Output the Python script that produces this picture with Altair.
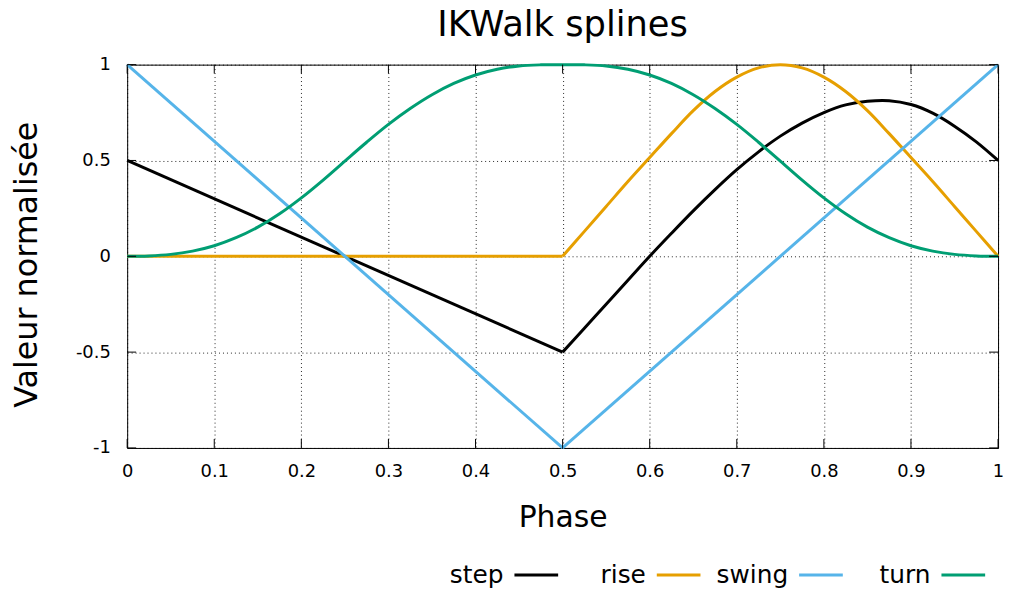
import altair as alt
import pandas as pd

# ---- data ----
series_names = ["step", "rise", "swing", "turn"]
series_colors = ["#000000", "#E69F00", "#56B4E9", "#009E73"]
title_text = "IKWalk splines"

step_phase = [0.0, 0.5, 0.525, 0.55, 0.575, 0.6, 0.625, 0.65, 0.675, 0.7, 0.725, 0.75,
              0.775, 0.8, 0.825, 0.85, 0.875, 0.9, 0.925, 0.95, 0.975, 1.0]
step_value = [0.5, -0.5, -0.375, -0.25, -0.125, 0.0, 0.12, 0.237, 0.348, 0.452, 0.545, 0.627,
              0.695, 0.75, 0.79, 0.809, 0.812, 0.792, 0.747, 0.679, 0.597, 0.5]

rise_phase = [0.0, 0.5, 0.525, 0.55, 0.575, 0.6, 0.625, 0.65, 0.675, 0.7, 0.725, 0.75,
              0.775, 0.8, 0.825, 0.85, 0.875, 0.9, 0.925, 0.95, 0.975, 1.0]
rise_value = [0.0, 0.0, 0.13, 0.26, 0.39, 0.515, 0.64, 0.76, 0.86, 0.935, 0.983, 1.0,
              0.983, 0.935, 0.86, 0.76, 0.64, 0.515, 0.39, 0.26, 0.13, 0.0]

swing_phase = [0.0, 0.5, 1.0]
swing_value = [1.0, -1.0, 1.0]

turn_phase = [0.0, 0.025, 0.05, 0.075, 0.1, 0.125, 0.15, 0.175, 0.2, 0.225, 0.25,
              0.275, 0.3, 0.325, 0.35, 0.375, 0.4, 0.425, 0.45, 0.475, 0.5,
              0.525, 0.55, 0.575, 0.6, 0.625, 0.65, 0.675, 0.7, 0.725, 0.75,
              0.775, 0.8, 0.825, 0.85, 0.875, 0.9, 0.925, 0.95, 0.975, 1.0]
turn_value = [0.0, 0.002, 0.010, 0.027, 0.055, 0.097, 0.152, 0.222, 0.305, 0.398, 0.497,
              0.595, 0.688, 0.771, 0.843, 0.902, 0.946, 0.976, 0.993, 0.999, 1.0,
              0.999, 0.993, 0.976, 0.946, 0.902, 0.843, 0.771, 0.688, 0.595, 0.497,
              0.398, 0.305, 0.222, 0.152, 0.097, 0.055, 0.027, 0.010, 0.002, 0.0]

# phase at which a series has a corner (drawn as separate smooth pieces)
kinks = {"step": 0.5, "rise": 0.5, "swing": 0.5}

x_ticks = [0, 0.1, 0.2, 0.3, 0.4, 0.5, 0.6, 0.7, 0.8, 0.9, 1]
y_ticks = [-1, -0.5, 0, 0.5, 1]

rows = []
for name, ph, va in [("step", step_phase, step_value), ("rise", rise_phase, rise_value),
                     ("swing", swing_phase, swing_value), ("turn", turn_phase, turn_value)]:
    k = kinks.get(name)
    for p, v in zip(ph, va):
        if k is None:
            rows.append({"series": name, "seg": name + "0", "phase": p, "value": v})
        else:
            if p <= k:
                rows.append({"series": name, "seg": name + "0", "phase": p, "value": v})
            if p >= k:
                rows.append({"series": name, "seg": name + "1", "phase": p, "value": v})
df = pd.DataFrame(rows)
df_legend = pd.DataFrame({"series": series_names})
df_title = pd.DataFrame({"t": [title_text]})
df_xt = pd.DataFrame({"phase": x_ticks})
df_yt = pd.DataFrame({"value": y_ticks})

FONT = "DejaVu Sans"
color_scale = alt.Scale(domain=series_names, range=series_colors)
x_scale = alt.Scale(domain=[0, 1], nice=False, zero=False)
y_scale = alt.Scale(domain=[-1, 1], nice=False, zero=False)

lines = alt.Chart(df).mark_line(strokeWidth=3, clip=False, interpolate="catmull-rom").encode(
    x=alt.X("phase:Q", title="Phase", scale=x_scale,
            axis=alt.Axis(values=x_ticks, labelExpr="toString(datum.value)",
                          grid=True, gridDash=[1, 3], gridColor="#000000", gridOpacity=0.85,
                          ticks=False, domain=False, labelFlush=False,
                          labelFontSize=18, labelPadding=15,
                          labelFont=FONT, labelColor="#000000",
                          titleFont=FONT, titleFontSize=30, titleFontWeight="normal",
                          titleColor="#000000", titleBaseline="alphabetic", titleY=79)),
    y=alt.Y("value:Q", title="Valeur normalisée", scale=y_scale,
            axis=alt.Axis(values=y_ticks, labelExpr="toString(datum.value)",
                          grid=True, gridDash=[1, 3], gridColor="#000000", gridOpacity=0.85,
                          ticks=False, domain=False, labelFlush=False,
                          labelFontSize=18, labelPadding=17,
                          labelFont=FONT, labelColor="#000000",
                          titleFont=FONT, titleFontSize=32, titleFontWeight="normal",
                          titleColor="#000000", titleBaseline="alphabetic",
                          titleAngle=-90, titleX=-91, titleY=201)),
    color=alt.Color("series:N", scale=color_scale, legend=None),
    detail="seg:N",
    order="phase:Q",
)

# inward tick marks on all four borders (gnuplot style)
tick_x_bottom = alt.Chart(df_xt).mark_rule(color="#000000", strokeWidth=1).encode(
    x=alt.X("phase:Q", scale=x_scale, axis=None),
    y=alt.value(386), y2=alt.value(377))
tick_x_top = alt.Chart(df_xt).mark_rule(color="#000000", strokeWidth=1).encode(
    x=alt.X("phase:Q", scale=x_scale, axis=None),
    y=alt.value(0), y2=alt.value(9))
tick_y_left = alt.Chart(df_yt).mark_rule(color="#000000", strokeWidth=1).encode(
    y=alt.Y("value:Q", scale=y_scale),
    x=alt.value(0), x2=alt.value(9))
tick_y_right = alt.Chart(df_yt).mark_rule(color="#000000", strokeWidth=1).encode(
    y=alt.Y("value:Q", scale=y_scale),
    x=alt.value(877), x2=alt.value(868))

legend_x = alt.X("series:N", sort=series_names, axis=None,
                 scale=alt.Scale(domain=series_names, range=[412, 842], padding=0))

legend_sym = alt.Chart(df_legend).mark_point(shape="stroke", size=1936, strokeWidth=3,
                                             filled=False, opacity=1).encode(
    x=legend_x,
    y=alt.value(514),
    color=alt.Color("series:N", scale=color_scale, legend=None),
)

legend_lbl = alt.Chart(df_legend).mark_text(align="right", baseline="middle", dx=-33,
                                            font=FONT, fontSize=25, color="#000000").encode(
    x=legend_x,
    y=alt.value(514),
    text="series:N",
)

title_mark = alt.Chart(df_title).mark_text(align="center", baseline="alphabetic",
                                           font=FONT, fontSize=35.5, color="#000000").encode(
    x=alt.value(438.5),
    y=alt.value(-29),
    text="t:N",
)

chart = alt.layer(lines, tick_x_bottom, tick_x_top, tick_y_left, tick_y_right,
                  legend_sym, legend_lbl, title_mark).resolve_scale(
    x="independent"
).properties(
    width=877, height=386,
    autosize=alt.AutoSizeParams(type="none"),
    padding={"left": 120, "top": 55, "right": 8, "bottom": 140},
).configure_view(stroke="#000000", strokeWidth=1)

chart.save("out.html", embed_options={"renderer": "svg", "actions": False})
